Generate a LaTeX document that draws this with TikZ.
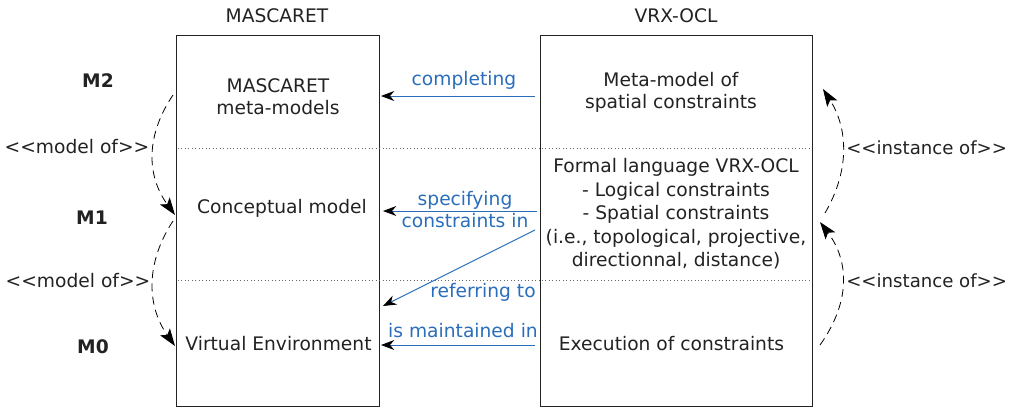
\documentclass[tikz,border=0pt]{standalone}
\usepackage{fontspec}
\setmainfont{DejaVu Sans}
\usetikzlibrary{positioning,arrows.meta}
\definecolor{linkblue}{HTML}{2A6EBB}
\definecolor{inkgray}{HTML}{222222}

\begin{document}
\begin{tikzpicture}[
	x=0.75pt, y=-0.75pt,
	font=\fontsize{14}{16.5}\selectfont,
	text=inkgray,
	column/.style={
		draw=inkgray,
		line width=0.75pt,
		minimum height=278.25pt,
		inner sep=0pt,
	},
	txt/.style={align=center, inner sep=1pt},
	level/.style={font=\fontsize{14}{16}\selectfont\bfseries},
	sep/.style={draw=black!60, dotted, line width=0.6pt},
	link/.style={-{Stealth[length=10pt, width=7.5pt, color=black]}, draw=linkblue, line width=0.75pt},
	linklabel/.style={text=linkblue, align=center, inner sep=1pt},
	meta/.style={-{Stealth[length=13pt, width=9pt, inset=3pt, color=black]}, draw=black, line width=0.6pt, dash pattern=on 6pt off 4pt},
]
\useasboundingbox (0,0) rectangle (1010,407);

% Les deux colonnes
\node[column, minimum width=152.25pt] (mascaret) at (277.5,220.5) {};
\node[column, minimum width=204pt] (vrx) at (676,220.5) {};
\node[txt] (titleM) at (277,16) {MASCARET};
\node[txt] (titleV) at (676,16) {VRX-OCL};

% Separateurs de niveaux
\draw[sep] (178,148) -- (810,148);
\draw[sep] (178,280) -- (810,280);

% Niveaux
\node[level] (m2) at (98,81) {M2};
\node[level] (m1) at (92,218) {M1};
\node[level] (m0) at (93,347) {M0};

% Contenu MASCARET
\node[txt] (metamodels) at (278,97) {MASCARET\\meta-models};
\node[txt] (concept) at (282,208) {Conceptual model};
\node[txt] (virtenv) at (278.5,344) {Virtual Environment};

% Contenu VRX-OCL
\node[txt] (metaspatial) at (671,92) {Meta-model of\\spatial constraints};
\node[txt, font=\fontsize{14}{17.6}\selectfont] (formal) at (676,214) {Formal language VRX-OCL\\- Logical constraints\\- Spatial constraints\\(i.e., topological, projective,\\directionnal, distance)};
\node[txt] (execution) at (671.5,344) {Execution of constraints};

% Relations model of / instance of
\node[txt] (modelA) at (77,147) {<\kern0pt<model of>\kern0pt>};
\node[txt] (modelB) at (78,281) {<\kern0pt<model of>\kern0pt>};
\node[txt, anchor=west, inner sep=0pt, font=\fontsize{13.6}{16}\selectfont] (instA) at (846,148) {<\kern0pt<instance of>\kern0pt>};
\node[txt, anchor=west, inner sep=0pt, font=\fontsize{13.6}{16}\selectfont] (instB) at (846,281) {<\kern0pt<instance of>\kern0pt>};

\coordinate (l2) at (173,95);
\coordinate (l1in) at (175,215);
\coordinate (l1out) at (173,221);
\coordinate (l0in) at (175,346);
\coordinate (r2in) at (823,89);
\coordinate (r1out) at (825,213);
\coordinate (r1in) at (820,222);
\coordinate (r0out) at (820,345);

\draw[meta] (l2) .. controls (146,135) and (146,175) .. (l1in);
\draw[meta] (l1out) .. controls (146,262) and (146,305) .. (l0in);
\draw[meta] (r1out) .. controls (849,172) and (849,130) .. (r2in);
\draw[meta] (r0out) .. controls (850,303) and (850,262) .. (r1in);

% Liens entre colonnes
\coordinate (cS) at (535,96);
\coordinate (cE) at (381,96);
\coordinate (sS) at (537,211);
\coordinate (sE) at (383,211);
\coordinate (rS) at (535,230);
\coordinate (rE) at (383,306);
\coordinate (iS) at (535,345);
\coordinate (iE) at (381,345);

\draw[link] (cS) -- (cE);
\node[linklabel] (completing) at (464,80) {completing};
\draw[link] (sS) -- (sE);
\node[linklabel] (specifying) at (465,210) {specifying\\constraints in};
\draw[link] (rS) -- (rE);
\node[linklabel] (referring) at (483,292) {referring to};
\draw[link] (iS) -- (iE);
\node[linklabel] (maintained) at (463,331) {is maintained in};

\end{tikzpicture}
\end{document}
